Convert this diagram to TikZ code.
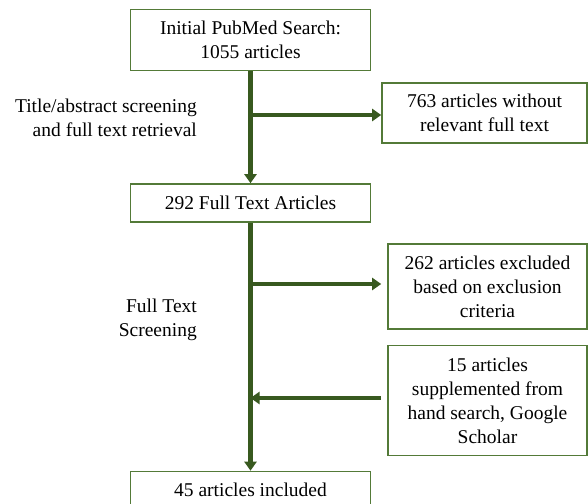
\documentclass[tikz,border=0pt]{standalone}
\usepackage{fontspec}
\setmainfont{Liberation Serif}
\usepackage{xcolor}
\definecolor{flowgreen}{HTML}{38591F}
\definecolor{boxgreen}{HTML}{537A38}
\usepackage{tikz}
\usetikzlibrary{arrows.meta}

\begin{document}
\begin{tikzpicture}[x=1pt, y=-1pt,
  box/.style={draw=boxgreen, line width=1.6pt, fill=white, inner sep=0pt,
              align=center, font=\fontsize{19.5}{24}\selectfont},
  lbl/.style={inner sep=0pt, align=right, anchor=east,
              font=\fontsize{19.5}{24}\selectfont},
  arr/.style={-{Triangle[length=9pt, width=12pt]}, line width=4.3pt, color=flowgreen}
]
  \clip (0,0) rectangle (588,503);

  % main column
  \node[box, minimum width=240pt, minimum height=61pt] (search) at (250.5,40)
    {Initial PubMed Search:\\1055 articles};
  \node[box, minimum width=240pt, minimum height=38pt] (fulltext) at (250.5,203)
    {292 Full Text Articles};
  \node[box, minimum width=240pt, minimum height=36pt] (included) at (250.5,489.5)
    {45 articles included};

  % side boxes
  \node[box, minimum width=205pt, minimum height=60pt] (missing) at (484.5,113)
    {763 articles without\\relevant full text};
  \node[box, minimum width=199pt, minimum height=85pt] (excluded) at (487.5,286.5)
    {262 articles excluded\\based on exclusion\\criteria};
  \node[box, minimum width=199pt, minimum height=110pt] (handsearch) at (487.5,400.5)
    {15 articles\\supplemented from\\hand search, Google\\Scholar};

  % stage labels
  \node[lbl] (screen1) at (197,117.5) {Title/abstract screening\\and full text retrieval};
  \node[lbl] (screen2) at (197,320) {Full Text\\Screening};

  \coordinate (j1) at (250.5,115);
  \coordinate (j2) at (250.5,284);
  \coordinate (j3) at (250.5,398);

  \draw[arr] (search) -- (fulltext);
  \draw[arr] (fulltext) -- (included);
  \draw[arr] (j1) -- (missing.west |- j1);
  \draw[arr, shorten >=6pt] (j2) -- (excluded.west |- j2);
  \draw[arr, shorten <=6pt] (handsearch.west |- j3) -- (j3);
\end{tikzpicture}
\end{document}
